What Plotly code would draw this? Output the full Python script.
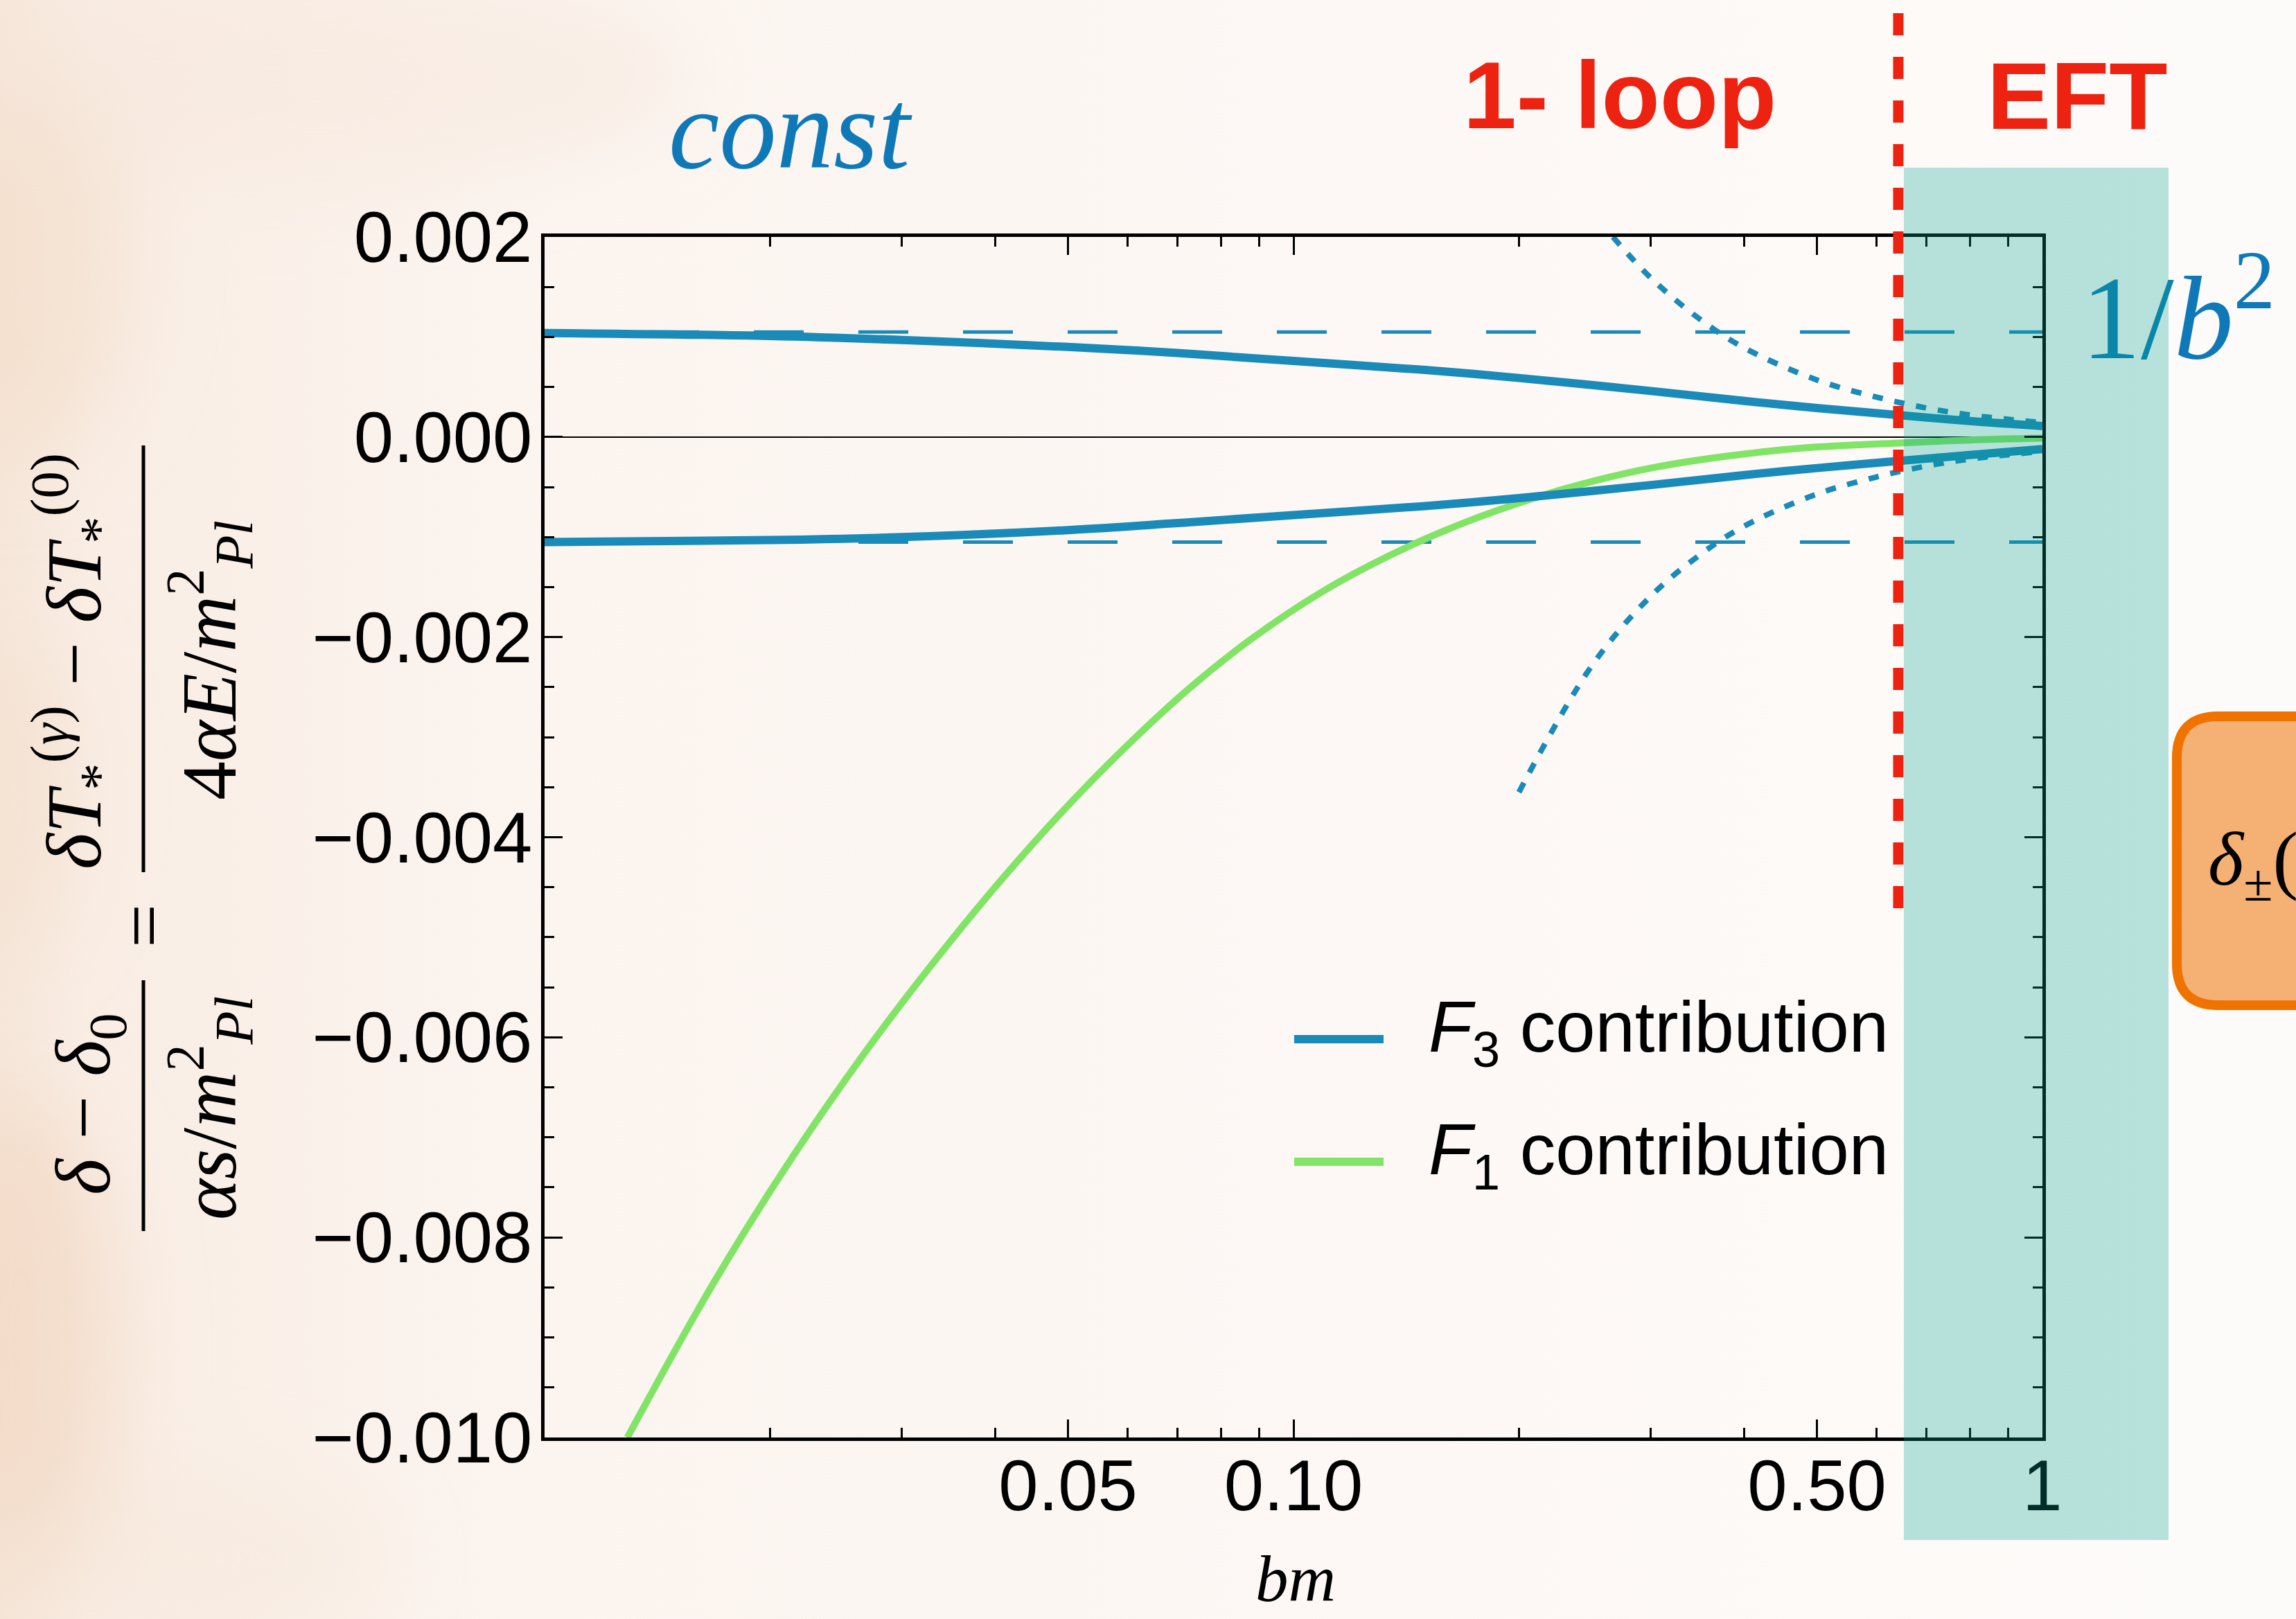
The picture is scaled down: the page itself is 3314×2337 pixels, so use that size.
import base64
import math
import plotly.graph_objects as go

# ---------------- data ----------------
bm_f3 = [0.01, 0.02, 0.03, 0.05, 0.07, 0.1, 0.15, 0.2, 0.3, 0.4, 0.5, 0.64, 0.8, 1.0]
f3_upper = [0.00104, 0.00101, 0.00097, 0.00090, 0.00084, 0.00076, 0.00067,
            0.00059, 0.00046, 0.00036, 0.00029, 0.00022, 0.00016, 0.00011]
f3_lower = [-0.00105, -0.00103, -0.00100, -0.00093, -0.00086, -0.00078, -0.00069,
            -0.00061, -0.00048, -0.00038, -0.00031, -0.00024, -0.00018, -0.00012]

bm_f1 = [0.0129, 0.0168, 0.0215, 0.0274, 0.035, 0.0447, 0.0571, 0.0729, 0.0878, 0.109,
         0.1356, 0.1685, 0.2095, 0.2516, 0.305, 0.38, 0.478, 0.645, 0.8, 1.0]
f1_vals = [-0.0100, -0.00846, -0.00718, -0.00605, -0.00502, -0.00408, -0.00324, -0.00250,
           -0.00202, -0.00155, -0.00117, -0.00086, -0.00061, -0.00044, -0.00030, -0.00019,
           -0.00011, -0.00006, -0.00003, -0.000012]

const_x = [0.01, 1.0]
const_level = 0.00105

bm_asym_up = [0.267, 0.3, 0.35, 0.4, 0.5, 0.6, 0.7, 0.8, 0.9, 1.0]
asym_up = [0.00200, 0.00159, 0.00117, 0.00089, 0.00057, 0.00040, 0.00029, 0.00022, 0.000177, 0.000143]
bm_asym_lo = [0.2, 0.25, 0.3, 0.35, 0.4, 0.5, 0.6, 0.7, 0.8, 0.9, 1.0]
asym_lo = [-0.00355, -0.00229, -0.00159, -0.00117, -0.00089, -0.00057, -0.00040,
           -0.00029, -0.00022, -0.000177, -0.000143]

eft_boundary = 0.642           # bm where the 1-loop / EFT split is drawn
x_range_log = [-2, 0]          # log10 of [0.01, 1]
y_range = [-0.010, 0.002]

x_tickvals = [0.05, 0.1, 0.5, 1]
x_ticktext = ["0.05", "0.10", "0.50", "1"]
x_minor = [0.02, 0.03, 0.04, 0.06, 0.07, 0.08, 0.09, 0.2, 0.3, 0.4, 0.6, 0.7, 0.8, 0.9]
y_tickvals = [-0.010, -0.008, -0.006, -0.004, -0.002, 0.0, 0.002]
y_ticktext = ["\u22120.010", "\u22120.008", "\u22120.006", "\u22120.004", "\u22120.002", "0.000", "0.002"]
y_minor = [v / 10000 for v in range(-100, 21, 5) if v % 20 != 0]

# ---------------- geometry helpers (pixel -> paper) ----------------
W, H = 3314, 2337
L, R, T, B = 786, 2948, 342, 2075
PW, PH = R - L, B - T


def px(x):
    return (x - L) / PW


def py(y):
    return (B - y) / PH


eft_paper = (math.log10(eft_boundary) - x_range_log[0]) / (x_range_log[1] - x_range_log[0])

BLUE = "#1a8ab8"
GREEN = "#82e466"
RED = "#ee2211"
TXTBLUE = "#0f79b8"
SERIF = "Liberation Serif, Times New Roman, serif"
SANS = "Liberation Sans, Arial, sans-serif"

fig = go.Figure()

# dashed constants
for lvl in (const_level, -const_level):
    fig.add_trace(go.Scatter(x=const_x, y=[lvl, lvl], mode="lines",
                             line=dict(color=BLUE, width=5, dash="72px,79px"),
                             showlegend=False, hoverinfo="skip"))
# dotted 1/b^2 asymptotes
for xs, ys in ((bm_asym_up, asym_up), (bm_asym_lo, asym_lo)):
    fig.add_trace(go.Scatter(x=xs, y=ys, mode="lines",
                             line=dict(color=BLUE, width=8, dash="15px,17px", shape="spline"),
                             showlegend=False))
# F1
fig.add_trace(go.Scatter(x=bm_f1, y=f1_vals, mode="lines", name="F1 contribution",
                         line=dict(color=GREEN, width=10, shape="spline"), showlegend=False))
# F3
for ys in (f3_upper, f3_lower):
    fig.add_trace(go.Scatter(x=bm_f3, y=ys, mode="lines", name="F3 contribution",
                             line=dict(color=BLUE, width=12, shape="spline"), showlegend=False))

# ---------------- background texture ----------------
svg = f'''<svg xmlns="http://www.w3.org/2000/svg" width="{W}" height="{H}" viewBox="0 0 {W} {H}">
<defs>
<linearGradient id="g" x1="0" y1="0" x2="1" y2="0">
<stop offset="0" stop-color="#f6e6d9"/>
<stop offset="0.04" stop-color="#f9ede4"/>
<stop offset="0.22" stop-color="#fbf4ef"/>
<stop offset="0.6" stop-color="#fdf8f5"/>
<stop offset="1" stop-color="#fdfbfa"/>
</linearGradient>
<filter id="b" x="-50%" y="-50%" width="200%" height="200%"><feGaussianBlur stdDeviation="60"/></filter>
</defs>
<rect width="{W}" height="{H}" fill="url(#g)"/>
<g filter="url(#b)">
<ellipse cx="30" cy="1950" rx="140" ry="360" fill="#f2d6c0" opacity="0.6"/>
<ellipse cx="40" cy="380" rx="150" ry="280" fill="#f3dcc9" opacity="0.55"/>
<ellipse cx="450" cy="110" rx="550" ry="150" fill="#f7e7db" opacity="0.5"/>
<ellipse cx="20" cy="1150" rx="90" ry="220" fill="#f4dfcd" opacity="0.5"/>
<ellipse cx="250" cy="2250" rx="300" ry="120" fill="#f7e6d9" opacity="0.45"/>
</g>
</svg>'''
src = "data:image/svg+xml;base64," + base64.b64encode(svg.encode()).decode()
fig.add_layout_image(dict(source=src, xref="paper", yref="paper", x=px(0), y=py(0),
                          sizex=W / PW, sizey=H / PH, xanchor="left", yanchor="top",
                          sizing="stretch", layer="below"))

# ---------------- shapes ----------------
shapes = []
# EFT teal band
shapes.append(dict(type="rect", xref="paper", yref="paper", x0=px(2748), x1=px(3130),
                   y0=py(2223), y1=py(242), fillcolor="rgba(0,160,145,0.28)",
                   line=dict(width=0), layer="above"))
# 1-loop / EFT split
shapes.append(dict(type="line", xref="paper", yref="paper", x0=eft_paper, x1=eft_paper,
                   y0=py(19), y1=py(1330), line=dict(color=RED, width=15, dash="32px,31px"),
                   layer="above"))
# legend lines
shapes.append(dict(type="line", xref="paper", yref="paper", x0=px(1868), x1=px(1997),
                   y0=py(1500), y1=py(1500), line=dict(color=BLUE, width=12), layer="above"))
shapes.append(dict(type="line", xref="paper", yref="paper", x0=px(1868), x1=px(1997),
                   y0=py(1677), y1=py(1677), line=dict(color=GREEN, width=12), layer="above"))
# y-title fraction bars
shapes.append(dict(type="line", xref="paper", yref="paper", x0=px(207), x1=px(207),
                   y0=py(1415), y1=py(1777), line=dict(color="black", width=5)))
shapes.append(dict(type="line", xref="paper", yref="paper", x0=px(207), x1=px(207),
                   y0=py(643), y1=py(1259), line=dict(color="black", width=5)))
# orange box (partially off the right edge)
x0b, x1b, y0b, y1b, rr = 3142, 3400, 1034, 1451, 60
path = (f"M {px(x0b + rr)},{py(y0b)} L {px(x1b)},{py(y0b)} L {px(x1b)},{py(y1b)} "
        f"L {px(x0b + rr)},{py(y1b)} Q {px(x0b)},{py(y1b)} {px(x0b)},{py(y1b - rr)} "
        f"L {px(x0b)},{py(y0b + rr)} Q {px(x0b)},{py(y0b)} {px(x0b + rr)},{py(y0b)} Z")
shapes.append(dict(type="path", xref="paper", yref="paper", path=path,
                   fillcolor="#f5b174", line=dict(color="#f07300", width=14), layer="above"))

# ---------------- annotations ----------------
ann = []


def A(text, x, y, size, color="black", family=SERIF, xanchor="center", yanchor="middle", angle=0):
    ann.append(dict(text=text, x=px(x), y=py(y), xref="paper", yref="paper", showarrow=False,
                    xanchor=xanchor, yanchor=yanchor, textangle=angle,
                    font=dict(size=size, color=color, family=family)))


A("<i>const</i>", 1141, 186, 165, TXTBLUE)
A("<b>1- loop</b>", 2338, 137, 138, RED, SANS)
A("<b>EFT</b>", 2998, 138, 138, RED, SANS)
A("<span style='color:#0a86a8'>1/</span><i>b</i><sup>2</sup>", 3002, 556, 172, TXTBLUE,
  xanchor="left", yanchor="bottom")
A("<i>δ</i><sub>±</sub>(", 3185, 1248, 110, "black", xanchor="left")
# legend entries
A("<i>F</i><sub>3</sub> contribution", 2060, 1490, 103, "black", SANS, xanchor="left")
A("<i>F</i><sub>1</sub> contribution", 2060, 1667, 103, "black", SANS, xanchor="left")
# axis titles
A("<i>bm</i>", 1870, 2279, 95)
A("<i>δ</i> − <i>δ</i><sub>0</sub>", 128, 1594, 112, angle=-90)
A("<i>αs</i>/<i>m</i><sup>2</sup><sub><i>Pl</i></sub>", 302, 1600, 112, angle=-90)
A("=", 207, 1337, 112, angle=-90)
A("<i>δT</i><sub>*</sub><sup>(<i>γ</i>)</sup> − <i>δT</i><sub>*</sub><sup>(0)</sup>", 107, 955, 112, angle=-90)
A("4<i>αE</i>/<i>m</i><sup>2</sup><sub><i>Pl</i></sub>", 302, 953, 112, angle=-90)

axis_common = dict(showline=True, linecolor="black", linewidth=5, mirror="ticks",
                   ticks="inside", ticklen=26, tickwidth=3, tickcolor="black",
                   showgrid=False, tickfont=dict(size=103, color="black", family=SANS))

fig.update_layout(
    width=W, height=H, autosize=False,
    margin=dict(l=L, r=W - R, t=T, b=H - B, pad=0),
    paper_bgcolor="#fcf7f4", plot_bgcolor="rgba(0,0,0,0)",
    showlegend=False, shapes=shapes, annotations=ann,
    xaxis=dict(type="log", range=x_range_log, tickvals=x_tickvals, ticktext=x_ticktext,
               zeroline=False, ticklabelstandoff=-24,
               minor=dict(tickvals=x_minor, ticks="inside", ticklen=14, tickwidth=3,
                          tickcolor="black", showgrid=False),
               **axis_common),
    yaxis=dict(range=y_range, tickvals=y_tickvals, ticktext=y_ticktext,
               zeroline=True, zerolinecolor="black", zerolinewidth=2, ticklabelstandoff=-8,
               minor=dict(tickvals=y_minor, ticks="inside", ticklen=14, tickwidth=3,
                          tickcolor="black", showgrid=False),
               **axis_common),
)

fig.write_html("out.html", config={"displayModeBar": False},
               post_script="document.body.style.margin='0px';")
